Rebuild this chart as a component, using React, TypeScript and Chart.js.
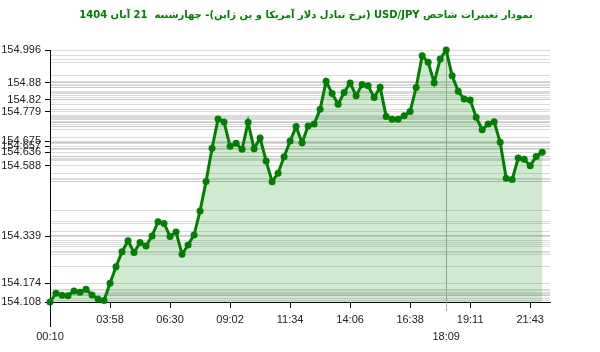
import React, { useEffect, useRef } from 'react';
import { Chart, registerables } from 'chart.js';

Chart.register(...registerables);

const titleText = 'نمودار تغییرات شاخص USD/JPY (نرخ تبادل دلار آمریکا و ین ژاپن)- چهارشنبه  21 آبان 1404';

const values: number[] = [
  154.108, 154.139, 154.132, 154.130, 154.147, 154.142, 154.153, 154.133, 154.119, 154.113,
  154.174, 154.232, 154.285, 154.324, 154.282, 154.318, 154.305, 154.341, 154.391, 154.385,
  154.339, 154.355, 154.276, 154.309, 154.344, 154.429, 154.533, 154.650, 154.753, 154.742,
  154.657, 154.667, 154.646, 154.741, 154.648, 154.686, 154.605, 154.532, 154.562, 154.620,
  154.675, 154.726, 154.669, 154.728, 154.735, 154.787, 154.886, 154.843, 154.805, 154.846,
  154.880, 154.835, 154.874, 154.870, 154.829, 154.865, 154.762, 154.752, 154.752, 154.764,
  154.779, 154.864, 154.976, 154.953, 154.881, 154.964, 154.996, 154.905, 154.851, 154.823,
  154.820, 154.759, 154.715, 154.735, 154.743, 154.671, 154.544, 154.540, 154.615, 154.611,
  154.588, 154.621, 154.636,
];

const xTickIndex: number[] = [0, 10, 20, 30, 40, 50, 60, 66, 70, 80];
const xTickLabels: string[] = ['00:10', '03:58', '06:30', '09:02', '11:34', '14:06', '16:38', '18:09', '19:11', '21:43'];
const xLoweredLabels: string[] = ['00:10', '18:09'];
const xMarkerLabel = '18:09';
const xMax = 83.3;

const yTickLabels: string[] = ['154.996', '154.88', '154.82', '154.779', '154.675', '154.657', '154.636', '154.588', '154.339', '154.174', '154.108'];
const yMin = 154.108;
const yMax = 154.996;

const GREEN = '#008000';

function labelForX(v: number): string {
  const i = xTickIndex.indexOf(v);
  return i >= 0 ? xTickLabels[i] : '';
}
function labelForY(v: number): string {
  const l = yTickLabels.find((s) => Math.abs(Number(s) - v) < 1e-9);
  return l || '';
}
const markerValue = xTickIndex[xTickLabels.indexOf(xMarkerLabel)];

const extendPlugin = {
  id: 'extendTicks',
  afterDraw(chart: any) {
    const xs = chart.scales.x;
    const ctx = chart.ctx;
    const bottom = chart.chartArea.bottom;
    ctx.save();
    ctx.lineWidth = 1;
    const p0 = Math.round(xs.getPixelForValue(xTickIndex[0])) + 0.5;
    ctx.strokeStyle = '#000';
    ctx.beginPath();
    ctx.moveTo(p0, bottom);
    ctx.lineTo(p0, bottom + 25);
    ctx.stroke();
    const p1 = Math.round(xs.getPixelForValue(markerValue)) + 0.5;
    ctx.strokeStyle = 'rgba(175,175,175,1)';
    ctx.beginPath();
    ctx.moveTo(p1, bottom);
    ctx.lineTo(p1, bottom + 9);
    ctx.stroke();
    ctx.restore();
  },
};

export default function App() {
  const ref = useRef<HTMLCanvasElement>(null);
  useEffect(() => {
    document.body.style.margin = '0';
    if (!ref.current) return;
    const chart = new Chart(ref.current, {
      type: 'line',
      data: {
        datasets: [
          {
            data: values.map((v, i) => ({ x: i, y: v })),
            borderColor: GREEN,
            backgroundColor: 'rgba(0,128,0,0.18)',
            fill: 'start',
            borderWidth: 3,
            pointRadius: 3.5,
            pointBackgroundColor: GREEN,
            pointBorderColor: GREEN,
            pointBorderWidth: 0,
            tension: 0,
            clip: 8,
          } as any,
        ],
      },
      options: {
        responsive: false,
        animation: false,
        devicePixelRatio: 1,
        layout: { padding: { left: 0, right: -12, top: 0, bottom: 0 } },
        plugins: {
          legend: { display: false },
          tooltip: { enabled: false },
          title: {
            display: true,
            text: titleText,
            color: GREEN,
            font: { family: 'DejaVu Sans', size: 10, weight: 'bold' },
            padding: { top: 9, bottom: 29 },
          },
        },
        scales: {
          x: {
            type: 'linear',
            min: 0,
            max: xMax,
            afterBuildTicks: (s: any) => {
              s.ticks = [...xTickIndex].sort((a, b) => a - b).map((v) => ({ value: v }));
            },
            afterFit: (s: any) => {
              s.height = 50;
            },
            ticks: {
              autoSkip: false,
              maxRotation: 0,
              minRotation: 0,
              padding: 3.5,
              color: '#222',
              font: { family: 'Liberation Sans', size: 11, lineHeight: 17 / 11 },
              callback: (v: any) => {
                const l = labelForX(Number(v));
                return xLoweredLabels.includes(l) ? ['', l] : l;
              },
            },
            grid: {
              color: (c: any) => (c.tick && c.tick.value === markerValue ? 'rgba(175,175,175,1)' : 'rgba(0,0,0,0)'),
              tickColor: (c: any) => (c.tick && c.tick.value === markerValue ? 'rgba(175,175,175,1)' : '#000'),
              tickLength: 6,
              drawOnChartArea: true,
            },
            border: { color: '#000', width: 1 },
          },
          y: {
            type: 'linear',
            min: yMin,
            max: yMax,
            afterBuildTicks: (s: any) => {
              const set = new Set<number>([...values, ...yTickLabels.map(Number)]);
              s.ticks = [...set].sort((a, b) => a - b).map((v) => ({ value: v }));
            },
            afterFit: (s: any) => {
              s.width = 50;
            },
            ticks: {
              autoSkip: false,
              padding: 4,
              color: '#222',
              font: { family: 'Liberation Sans', size: 11 },
              callback: (v: any) => labelForY(Number(v)),
            },
            grid: {
              color: 'rgba(175,175,175,0.45)',
              tickColor: (c: any) => (c.tick && labelForY(c.tick.value) ? '#000' : 'rgba(0,0,0,0)'),
              tickLength: 5,
              drawOnChartArea: true,
            },
            border: { color: '#000', width: 1 },
          },
          yRightSpace: {
            type: 'linear',
            position: 'right',
            min: 0,
            max: 1,
            afterFit: (s: any) => {
              s.width = 62;
            },
            ticks: { display: false },
            grid: { display: false, drawOnChartArea: false },
            border: { display: false },
          },
        },
      },
      plugins: [extendPlugin],
    });
    return () => chart.destroy();
  }, []);
  return (
    <div style={{ width: 600, height: 352 }}>
      <canvas ref={ref} dir="rtl" width={600} height={352} />
    </div>
  );
}
